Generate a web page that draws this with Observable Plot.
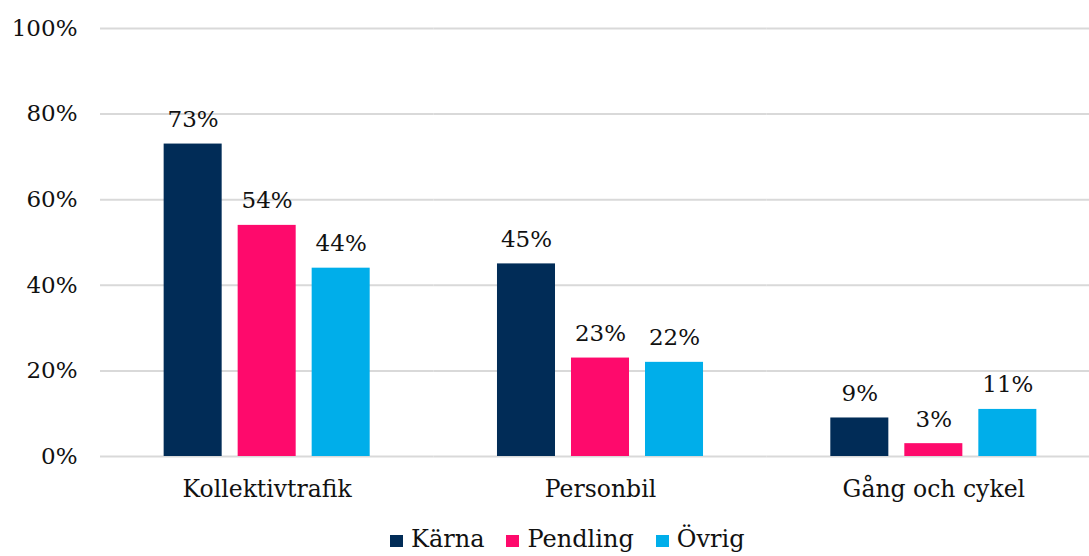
<!DOCTYPE html>
<html>
<head>
<meta charset="utf-8">
<script src="https://cdn.jsdelivr.net/npm/d3@7"></script>
<script src="https://cdn.jsdelivr.net/npm/@observablehq/plot@0.6"></script>
<style>
  html, body { margin: 0; padding: 0; background: #fff; }
  #wrap { position: relative; width: 1089px; height: 556px; overflow: hidden; }
  #chart svg { max-width: none !important; }
  #legend { position: absolute; left: 390px; top: 525px; line-height: 28px; font-family: "DejaVu Serif", serif; font-size: 24px; color: #111; white-space: nowrap; }
  #legend span.item { margin-right: 22px; }
  #legend span.sw { display: inline-block; width: 13px; height: 12px; margin-right: 8px; vertical-align: baseline; }
</style>
</head>
<body>
<div id="wrap"><div id="chart"></div><div id="legend"></div></div>
<script>
const categories = ["Kollektivtrafik", "Personbil", "Gång och cykel"];
const series = ["Kärna", "Pendling", "Övrig"];
const karna = [73, 45, 9];
const pendling = [54, 23, 3];
const ovrig = [44, 22, 11];
const colors = ["#012c57", "#fe0a6c", "#00aeea"];
const yTicks = [0, 20, 40, 60, 80, 100];

const valuesBySeries = [karna, pendling, ovrig];
const data = [];
categories.forEach((c, i) => {
  series.forEach((s, j) => {
    data.push({category: c, series: s, value: valuesBySeries[j][i]});
  });
});

const chart = Plot.plot({
  width: 1100,
  height: 515,
  marginLeft: 100,
  marginRight: 0,
  marginTop: 28,
  marginBottom: 59,
  style: {fontFamily: "'DejaVu Serif', serif", fontSize: "23px", color: "#111", background: "#fff", overflow: "visible", maxWidth: "none"},
  fx: {domain: categories, padding: 0, label: null, round: false},
  x: {domain: series, paddingInner: 0.216, paddingOuter: 0.86, axis: null, round: false},
  y: {domain: [0, 100], label: null},
  color: {domain: series, range: colors},
  marks: [
    Plot.ruleY(yTicks, {stroke: "#d9d9d9", strokeWidth: 2}),
    Plot.barY(data, {fx: "category", x: "series", y: "value", fill: "series"}),
    Plot.text(data, {fx: "category", x: "series", y: "value", text: d => d.value + "%", lineAnchor: "bottom", dy: -17, fontSize: 23, fill: "#111"}),
    Plot.axisY({ticks: yTicks, tickSize: 0, tickPadding: 23, tickFormat: d => d + "%", fontSize: 23, label: null}),
    Plot.axisFx({anchor: "bottom", tickSize: 0, tickPadding: 24, fontSize: 23.5, label: null})
  ]
});
document.getElementById("chart").appendChild(chart);

const legend = document.getElementById("legend");
series.forEach((s, j) => {
  const item = document.createElement("span");
  item.className = "item";
  const sw = document.createElement("span");
  sw.className = "sw";
  sw.style.background = colors[j];
  item.appendChild(sw);
  item.appendChild(document.createTextNode(s));
  legend.appendChild(item);
});
</script>
</body>
</html>
